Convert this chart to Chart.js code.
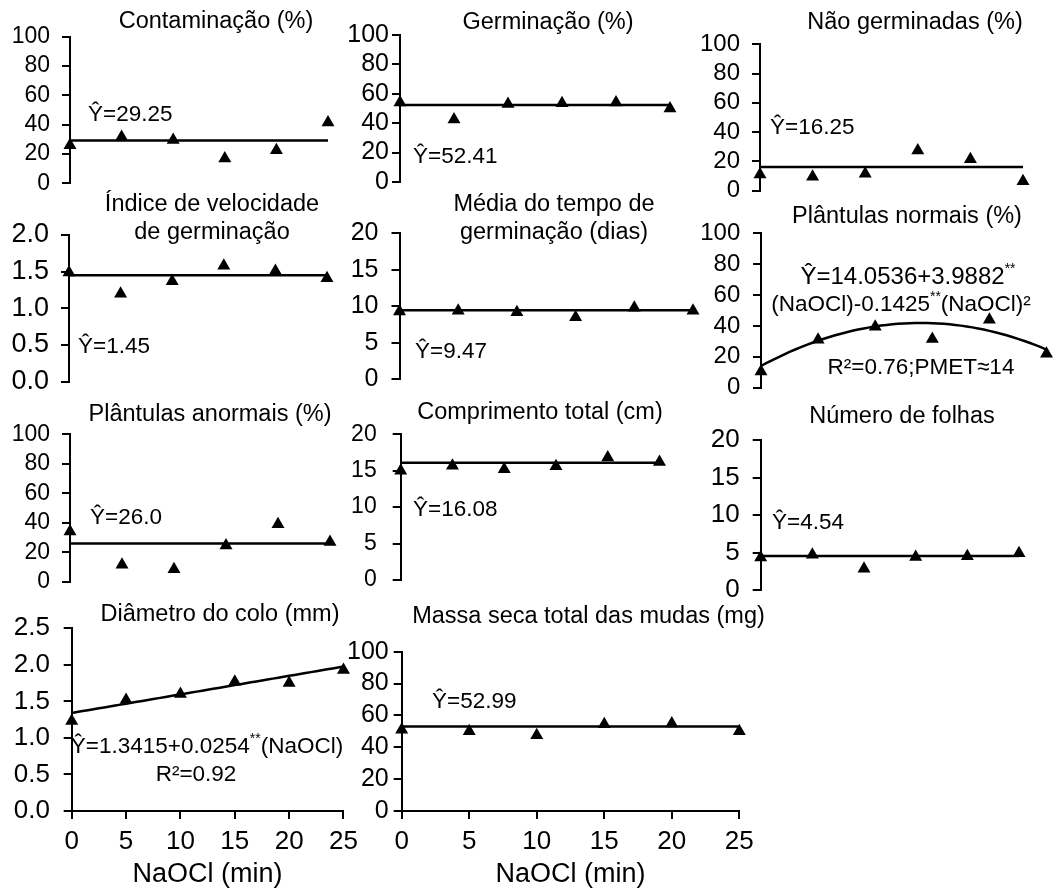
<!DOCTYPE html>
<html>
<head>
<meta charset="utf-8">
<title>NaOCl</title>
<script src="https://cdn.jsdelivr.net/npm/chart.js@4.4.1/dist/chart.umd.min.js"></script>
<style>
    body { margin: 0; background: #fff; }
    #wrap { position: relative; width: 1054px; height: 892px; overflow: hidden; }
    #wrap canvas { position: absolute; left: 0; top: 0; }
</style>
</head>
<body>
<div id="wrap"></div>
<script>
const FONT = '"Liberation Sans", Arial, Helvetica, sans-serif';

// exposure time to sodium hypochlorite (min)
const doses = [0, 5, 10, 15, 20, 25];

// treatment means
const contaminacao      = [26, 31.5, 29.5, 17, 22.5, 41.5];
const germinacao        = [54, 42.5, 53, 53.5, 54, 50];
const naoGerminadas     = [11, 9.5, 11.5, 27.5, 21.5, 6.5];
const ivg               = [1.49, 1.20, 1.37, 1.58, 1.51, 1.41];
const tempoMedio        = [9.3, 9.4, 9.2, 8.5, 9.8, 9.4];
const plantulasNormais  = [10.5, 31, 39.5, 31.5, 44, 22];
const plantulasAnormais = [34, 11.5, 8.5, 24.5, 39, 27];
const comprimento       = [15.0, 15.7, 15.2, 15.6, 16.8, 16.2];
const folhas            = [4.35, 4.7, 2.85, 4.4, 4.5, 4.9];
const diametro          = [1.23, 1.52, 1.60, 1.77, 1.75, 1.93];
const massaSeca         = [51, 50, 47.5, 54.5, 55, 50];

// fitted models, coefficients of 1, x, x^2
const fitContaminacao      = [29.25];
const fitGerminacao        = [52.41];
const fitNaoGerminadas     = [16.25];
const fitIvg               = [1.45];
const fitTempoMedio        = [9.47];
const fitPlantulasNormais  = [14.0536, 3.9882, -0.1425];
const fitPlantulasAnormais = [26.0];
const fitComprimento       = [16.08];
const fitFolhas            = [4.54];
const fitDiametro          = [1.3415, 0.0254];
const fitMassaSeca         = [52.99];

function evalPoly(coef, x) {
    return coef.reduce((s, c, i) => s + c * Math.pow(x, i), 0);
}

function fitLine(coef) {
    const pts = [];
    for (let x = 0; x <= 25; x += 0.5) pts.push({ x: x, y: evalPoly(coef, x) });
    return pts;
}

// box: [axis x, pixel of x=25, pixel of y max, pixel of y=0]
// gap: axis to right edge of the y labels; fs: y label font size
const panels = [
    { values: contaminacao, fit: fitContaminacao, yMax: 100, step: 20, dec: 0, box: [70, 328, 36.7, 183.3], gap: 20, fs: 23,
      texts: [ { t: ['Contaminação (%)'], x: 216, y: 22, size: 23.5 },
               { t: ['Ŷ=29.25'], x: 88, y: 115, align: 'left' } ] },
    { values: germinacao, fit: fitGerminacao, yMax: 100, step: 20, dec: 0, box: [400, 670, 35, 182], gap: 11, fs: 25,
      texts: [ { t: ['Germinação (%)'], x: 548, y: 23, size: 23.5 },
               { t: ['Ŷ=52.41'], x: 413, y: 157, align: 'left' } ] },
    { values: naoGerminadas, fit: fitNaoGerminadas, yMax: 100, step: 20, dec: 0, box: [760, 1023, 44.3, 190.7], gap: 20, fs: 24,
      texts: [ { t: ['Não germinadas (%)'], x: 915, y: 23, size: 23.5 },
               { t: ['Ŷ=16.25'], x: 770, y: 128, align: 'left' } ] },
    { values: ivg, fit: fitIvg, yMax: 2, step: 0.5, dec: 1, box: [69, 327, 235, 381.7], gap: 20, fs: 27,
      texts: [ { t: ['Índice de velocidade'], x: 212, y: 205, size: 23.5 },
               { t: ['de germinação'], x: 212, y: 233, size: 23.5 },
               { t: ['Ŷ=1.45'], x: 78, y: 347, align: 'left' } ] },
    { values: tempoMedio, fit: fitTempoMedio, yMax: 20, step: 5, dec: 0, box: [399.5, 693, 233.3, 379.3], gap: 21, fs: 25,
      texts: [ { t: ['Média do tempo de'], x: 554, y: 205, size: 23.5 },
               { t: ['germinação (dias)'], x: 554, y: 233, size: 23.5 },
               { t: ['Ŷ=9.47'], x: 415, y: 352, align: 'left' } ] },
    { values: plantulasNormais, fit: fitPlantulasNormais, yMax: 100, step: 20, dec: 0, box: [761, 1055, 233.3, 387.7], gap: 20.7, fs: 24,
      texts: [ { t: ['Plântulas normais (%)'], x: 907, y: 217, size: 23.5 },
               { t: ['Ŷ=14.0536+3.9882', '**'], x: 908, y: 277, size: 24 },
               { t: ['(NaOCl)-0.1425', '**', '(NaOCl)²'], x: 901, y: 305 },
               { t: ['R²=0.76;PMET≈14'], x: 921, y: 368 } ] },
    { values: plantulasAnormais, fit: fitPlantulasAnormais, yMax: 100, step: 20, dec: 0, box: [70, 330, 434.3, 581.7], gap: 20, fs: 23,
      texts: [ { t: ['Plântulas anormais (%)'], x: 210, y: 415, size: 23.5 },
               { t: ['Ŷ=26.0'], x: 90, y: 518, align: 'left' } ] },
    { values: comprimento, fit: fitComprimento, yMax: 20, step: 5, dec: 0, box: [400.7, 659.5, 434.3, 580], gap: 24, fs: 23,
      texts: [ { t: ['Comprimento total (cm)'], x: 540, y: 413, size: 23.5 },
               { t: ['Ŷ=16.08'], x: 413, y: 510, align: 'left' } ] },
    { values: folhas, fit: fitFolhas, yMax: 20, step: 5, dec: 0, box: [760.7, 1019, 440, 590], gap: 21, fs: 26,
      texts: [ { t: ['Número de folhas'], x: 902, y: 417, size: 23.5 },
               { t: ['Ŷ=4.54'], x: 772, y: 523, align: 'left' } ] },
    { values: diametro, fit: fitDiametro, yMax: 2.5, step: 0.5, dec: 1, box: [71.7, 343.5, 628.3, 811], gap: 21.7, fs: 26, showX: true,
      texts: [ { t: ['Diâmetro do colo (mm)'], x: 220, y: 615, size: 23.5 },
               { t: ['Ŷ=1.3415+0.0254', '**', '(NaOCl)'], x: 207, y: 747 },
               { t: ['R²=0.92'], x: 196, y: 775 } ] },
    { values: massaSeca, fit: fitMassaSeca, yMax: 100, step: 20, dec: 0, box: [401.7, 739.3, 651.7, 811], gap: 13, fs: 25, showX: true,
      texts: [ { t: ['Massa seca total das mudas (mg)'], x: 588.5, y: 617, size: 23.5 },
               { t: ['Ŷ=52.99'], x: 432, y: 702, align: 'left' } ] }
];

// titles and equations, drawn in page pixels; '**' is set as a small superscript
function textLayer(items) {
    return {
        id: 'panelText',
        afterDraw(chart) {
            const ctx = chart.ctx;
            ctx.save();
            ctx.fillStyle = '#000';
            ctx.textBaseline = 'middle';
            ctx.textAlign = 'left';
            for (const it of items) {
                const size = it.size || 22.5;
                let w = 0;
                const segs = it.t.map(s => {
                    const sup = s === '**';
                    ctx.font = (sup ? 14 : size) + 'px ' + FONT;
                    const m = ctx.measureText(s).width;
                    w += m;
                    return { s: s, sup: sup, m: m };
                });
                let x = it.align === 'left' ? it.x : it.x - w / 2;
                for (const g of segs) {
                    ctx.font = (g.sup ? 14 : size) + 'px ' + FONT;
                    ctx.fillText(g.s, x, g.sup ? it.y - 8 : it.y);
                    x += g.m;
                }
            }
            ctx.restore();
        }
    };
}

const W = 1054, H = 892;
const Y_AXIS_W = 70;
const X_AXIS_H = 80;
const wrap = document.getElementById('wrap');

function makePanel(p) {
    const canvas = document.createElement('canvas');
    canvas.width = W;
    canvas.height = H;
    wrap.appendChild(canvas);

    const xH = p.showX ? X_AXIS_H : 0;
    const [axisX, xEnd, yTop, yBottom] = p.box;

    new Chart(canvas, {
        type: 'scatter',
        data: {
            datasets: [{
                data: fitLine(p.fit),
                showLine: true,
                borderColor: '#000',
                borderWidth: 2.5,
                pointRadius: 0,
                fill: false,
                clip: false
            }, {
                data: doses.map((d, i) => ({ x: d, y: p.values[i] })),
                pointStyle: 'triangle',
                pointRadius: 7.5,
                backgroundColor: '#000',
                borderColor: '#000',
                borderWidth: 0,
                clip: false
            }]
        },
        options: {
            responsive: false,
            animation: false,
            events: [],
            layout: {
                padding: { left: axisX - Y_AXIS_W, top: yTop, right: W - xEnd, bottom: H - yBottom - xH }
            },
            plugins: {
                legend: { display: false },
                tooltip: { enabled: false }
            },
            scales: {
                x: {
                    type: 'linear',
                    min: 0,
                    max: 25,
                    display: !!p.showX,
                    afterFit: s => { s.height = xH; },
                    ticks: { stepSize: 5, padding: 7, autoSkip: false, color: '#000', font: { size: 26, family: FONT }, maxRotation: 0 },
                    grid: { drawOnChartArea: false, tickLength: 8, color: '#000', lineWidth: 2 },
                    border: { color: '#000', width: 2 },
                    title: { display: true, text: 'NaOCl (min)', color: '#000', font: { size: 27, family: FONT }, padding: 0 }
                },
                y: {
                    min: 0,
                    max: p.yMax,
                    afterFit: s => { s.width = Y_AXIS_W; },
                    ticks: {
                        stepSize: p.step,
                        padding: p.gap - 8,
                        autoSkip: false,
                        color: '#000',
                        font: { size: p.fs, family: FONT },
                        callback: v => v.toFixed(p.dec)
                    },
                    grid: { drawOnChartArea: false, tickLength: 8, color: '#000', lineWidth: 2 },
                    border: { color: '#000', width: 2 }
                }
            }
        },
        plugins: [textLayer(p.texts)]
    });
}

panels.forEach(makePanel);
</script>
</body>
</html>
